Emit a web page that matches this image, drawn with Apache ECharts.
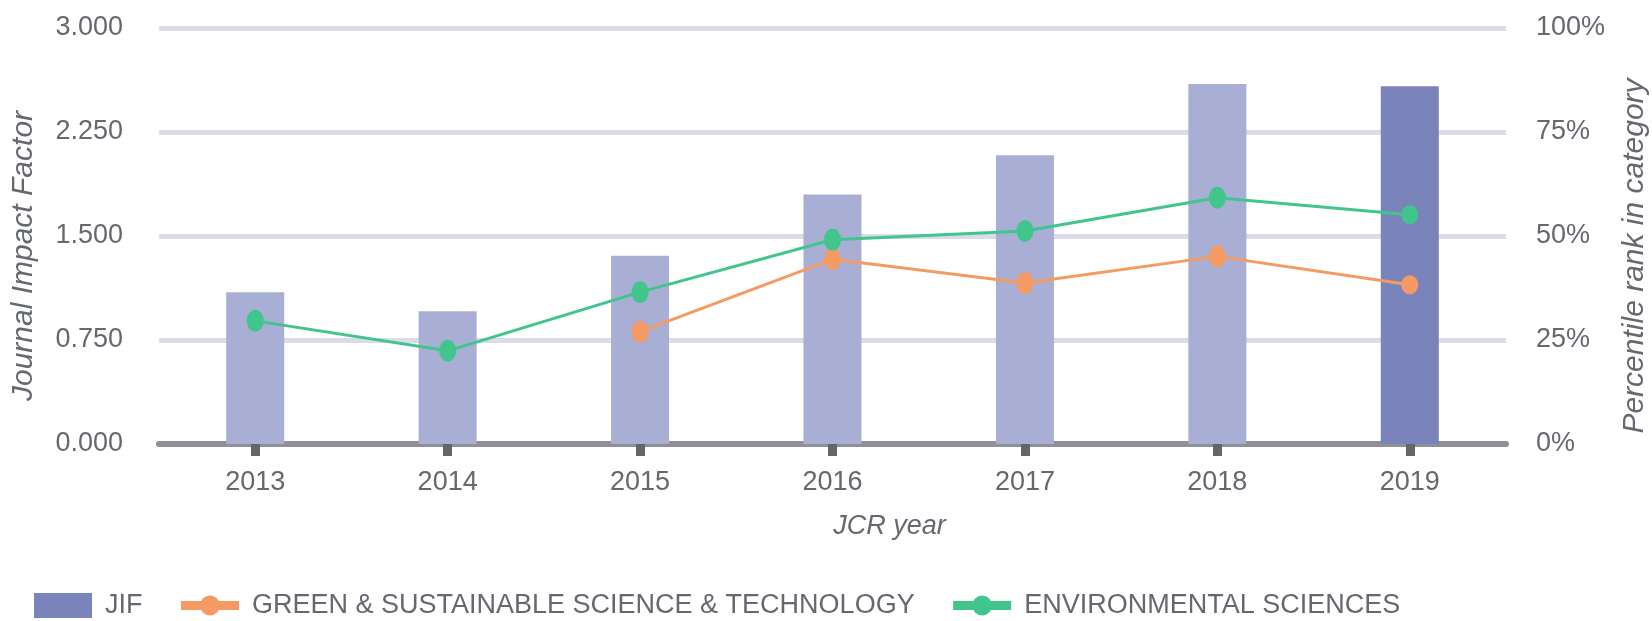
<!DOCTYPE html>
<html>
<head>
<meta charset="utf-8">
<script src="https://cdn.jsdelivr.net/npm/echarts@6/dist/echarts.min.js"></script>
<style>
  html, body { margin: 0; padding: 0; background: #fff; }
  #main { width: 1652px; height: 621px; }
</style>
</head>
<body>
<div id="main"></div>
<script>
// JCR years and values
var years = ['2013', '2014', '2015', '2016', '2017', '2018', '2019']
var jif = [1.094, 0.958, 1.357, 1.799, 2.083, 2.597, 2.580]
var greenSust = [null, null, 27.0, 44.4, 38.7, 45.1, 38.3]
var envSci = [29.6, 22.4, 36.5, 49.1, 51.2, 59.2, 55.1]

var jifTicks = [0, 0.75, 1.5, 2.25, 3]
var pctTicks = [0, 25, 50, 75, 100]

var textColor = '#65686f'
var font = 'Liberation Sans'
var last = years.length - 1

var myChart = echarts.init(document.getElementById('main'))

var option = {
  animation: false,
  textStyle: { fontFamily: font },
  grid: {
    left: 159,
    right: 146,
    top: 28,
    bottom: 177,
    outerBoundsMode: 'none'
  },
  legend: {
    left: 29,
    top: 587,
    itemWidth: 58,
    itemHeight: 25,
    itemGap: 34,
    textStyle: {
      color: textColor,
      fontSize: 27,
      fontFamily: font,
      padding: [0, 0, 0, 8]
    },
    data: [
      { name: 'JIF', icon: 'rect' },
      { name: 'GREEN & SUSTAINABLE SCIENCE & TECHNOLOGY', lineStyle: { width: 9 } },
      { name: 'ENVIRONMENTAL SCIENCES', lineStyle: { width: 9 } }
    ]
  },
  xAxis: {
    type: 'category',
    data: years,
    name: 'JCR year',
    nameLocation: 'middle',
    nameGap: 69,
    nameTextStyle: {
      color: textColor,
      fontSize: 27,
      fontStyle: 'italic',
      padding: [0, 0, 0, 114]
    },
    axisLine: { show: true, lineStyle: { color: '#8e9097', width: 6 } },
    axisTick: {
      show: true,
      alignWithLabel: true,
      length: 12,
      lineStyle: { color: '#666666', width: 9 }
    },
    axisLabel: { color: textColor, fontSize: 27, margin: 25 }
  },
  yAxis: [
    {
      type: 'value',
      min: jifTicks[0],
      max: jifTicks[jifTicks.length - 1],
      interval: jifTicks[1] - jifTicks[0],
      name: 'Journal Impact Factor',
      nameLocation: 'middle',
      nameRotate: 90,
      nameGap: 120,
      nameTextStyle: {
        color: textColor,
        fontSize: 30,
        fontStyle: 'italic',
        padding: [0, 40, 0, 0]
      },
      axisLine: { show: false },
      axisTick: { show: false },
      axisLabel: {
        color: textColor,
        fontSize: 27,
        margin: 36,
        formatter: function(v) { return v.toFixed(3) }
      },
      splitLine: { lineStyle: { color: '#dcdbea', width: 5 } }
    },
    {
      type: 'value',
      position: 'right',
      min: pctTicks[0],
      max: pctTicks[pctTicks.length - 1],
      interval: pctTicks[1] - pctTicks[0],
      name: 'Percentile rank in category',
      nameLocation: 'middle',
      nameRotate: 90,
      nameGap: 114,
      nameTextStyle: {
        color: textColor,
        fontSize: 30,
        fontStyle: 'italic',
        padding: [0, 40, 0, 0]
      },
      axisLine: { show: false },
      axisTick: { show: false },
      axisLabel: {
        color: textColor,
        fontSize: 27,
        margin: 30,
        formatter: '{value}%'
      },
      splitLine: { show: false }
    }
  ],
  series: [
    {
      name: 'JIF',
      type: 'bar',
      yAxisIndex: 0,
      barWidth: 58,
      itemStyle: { color: '#7b83bb' },
      data: jif.map(function(v, i) {
        return i === last ? v : { value: v, itemStyle: { color: '#a8aed4' } }
      }),
      z: 2
    },
    {
      name: 'GREEN & SUSTAINABLE SCIENCE & TECHNOLOGY',
      type: 'line',
      yAxisIndex: 1,
      data: greenSust,
      symbol: 'circle',
      symbolSize: function(v, p) { return p.dataIndex === last ? [17, 19] : [17, 22] },
      itemStyle: { color: '#f59a62' },
      lineStyle: { color: '#f59a62', width: 3 },
      z: 3
    },
    {
      name: 'ENVIRONMENTAL SCIENCES',
      type: 'line',
      yAxisIndex: 1,
      data: envSci,
      symbol: 'circle',
      symbolSize: function(v, p) { return p.dataIndex === last ? [17, 19] : [17, 22] },
      itemStyle: { color: '#42c58d' },
      lineStyle: { color: '#42c58d', width: 3 },
      z: 4
    }
  ]
}

myChart.setOption(option)
</script>
</body>
</html>
